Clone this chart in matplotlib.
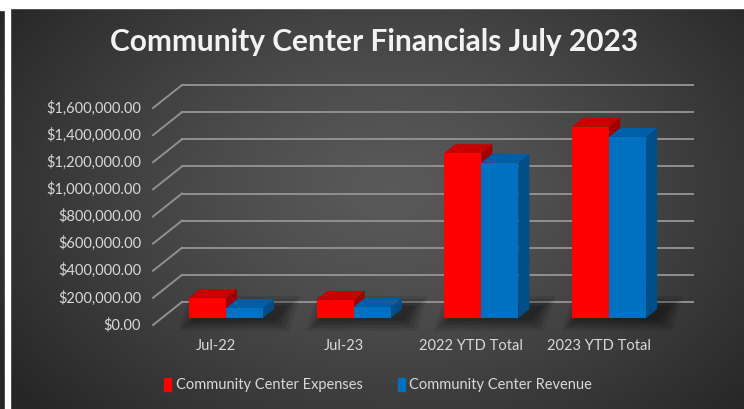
import numpy as np
import matplotlib.pyplot as plt
from matplotlib.patches import Polygon, Patch, Rectangle
from matplotlib.transforms import offset_copy

categories = ["Jul-22", "Jul-23", "2022 YTD Total", "2023 YTD Total"]
expenses = [147000, 133000, 1215000, 1410000]
revenue = [72000, 81000, 1145000, 1335000]
series_names = ["Community Center Expenses", "Community Center Revenue"]
ticks = np.arange(0, 1600001, 200000)

W, H = 744, 409
fig = plt.figure(figsize=(W / 100, H / 100), dpi=100)
fig.patch.set_facecolor("#262626")

# background: dark radial gradient inside the chart frame, white margins
bg = fig.add_axes([0, 0, 1, 1])
bg.set_xlim(0, W)
bg.set_ylim(H, 0)
bg.axis("off")
yy, xx = np.mgrid[0:H, 0:W]
r = np.sqrt(((xx - 390) / 470.0) ** 2 + ((yy - 190) / 330.0) ** 2)
shade = 0.35 - 0.2 * np.clip(r, 0, 1) ** 1.3
bg.imshow(np.dstack([shade] * 3), extent=(0, W, H, 0), zorder=0)
bg.add_patch(Rectangle((5, 0), 5, H, color="white", zorder=1))
bg.add_patch(Rectangle((0, 0), W, 8, color="white", zorder=1))
bg.add_patch(Rectangle((0, 0), 5, 10, color="white", zorder=1))

# plotting plane sits at the front face of the columns
ax = fig.add_axes([162 / W, (H - 318) / H, 511 / W, 217 / H])
ax.set_xlim(-0.5, 3.5)
ax.set_ylim(0, 1600000)
ax.axis("off")
ax.patch.set_alpha(0)

sx = 511 / 4.0            # pixels per category
sy = 217 / 1600000.0      # pixels per dollar


def off(dx, dy):
    return dx / sx, dy / sy


bdx, bdy = off(20, 16)    # back wall
fdx, fdy = off(-9, -7)    # front edge of side wall
cdx, cdy = off(11, 9)     # column depth

grid_c = "#909090"
for v in ticks:
    ax.plot([-0.5 + fdx, -0.5 + bdx], [v + fdy, v + bdy], color=grid_c,
            lw=1.4, clip_on=False, zorder=1)
    ax.plot([-0.5 + bdx, 3.5 + bdx], [v + bdy, v + bdy], color=grid_c,
            lw=1.4, clip_on=False, zorder=1)

lab_tr = offset_copy(ax.transData, fig=fig, x=-21, y=-7, units="dots")
for v in ticks:
    ax.text(-0.5, v, f"${v:,.2f}", transform=lab_tr, ha="right", va="center",
            color="#d9d9d9", fontsize=10.5, family="Lato")

cat_tr = offset_copy(ax.transData, fig=fig, x=-10, y=-28, units="dots")
for i, c in enumerate(categories):
    ax.text(i, 0, c, transform=cat_tr, ha="center", va="center",
            color="#d9d9d9", fontsize=10.5, family="Lato")

width = 0.29
faces = [("#ff0000", "#c80000", "#a00000"), ("#0070c0", "#005ea6", "#004f8a")]

for i in range(len(categories)):
    # soft shadow under each pair of columns
    x0, x1 = i - width, i + width
    for e, a in [(16, 0.10), (12, 0.12), (8, 0.14), (4, 0.16)]:
        ex, ey = off(e, e * 0.8)
        pts = [(x0 - ex + 6 / sx, -ey), (x1 + ex + 10 / sx, -ey),
               (x1 + ex + 10 / sx + cdx, cdy + ey), (x0 - ex + 6 / sx + cdx, cdy + ey)]
        ax.add_patch(Polygon(pts, closed=True, color="black", alpha=a, lw=0,
                             clip_on=False, zorder=2))

for i in range(len(categories)):
    for k, vals in enumerate([expenses, revenue]):
        v = vals[i]
        x0 = i - width + k * width
        x1 = x0 + width
        front, top, side = faces[k]
        ax.add_patch(Polygon([(x1, 0), (x1 + cdx, cdy), (x1 + cdx, v + cdy), (x1, v)],
                             closed=True, color=side, lw=0, zorder=3 + k))
        ax.add_patch(Polygon([(x0, v), (x1, v), (x1 + cdx, v + cdy), (x0 + cdx, v + cdy)],
                             closed=True, color=top, lw=0, zorder=3 + k))
        ax.bar(x0 + width / 2, v, width=width, color=front, lw=0, zorder=3 + k)

fig.text(374 / W, 1 - 42 / H, "Community Center Financials July 2023",
         ha="center", va="center", color="#f2f2f2", fontsize=21.5,
         fontweight="bold", family="Lato")

handles = [Patch(color=faces[0][0]), Patch(color=faces[1][0])]
fig.legend(handles, series_names, loc="center", bbox_to_anchor=(378 / W, 1 - 385 / H),
           ncol=2, frameon=False, handlelength=0.5, handleheight=1.0,
           handletextpad=0.3, columnspacing=2.4, labelcolor="#d9d9d9",
           prop={"family": "Lato", "size": 10.5})

fig.savefig("out.png", dpi=100, facecolor=fig.get_facecolor())
